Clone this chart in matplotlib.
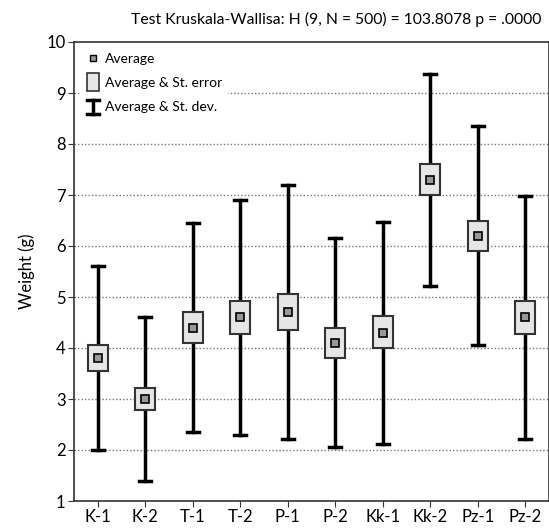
import matplotlib.pyplot as plt
from matplotlib.patches import Rectangle
from matplotlib.lines import Line2D
from matplotlib.legend_handler import HandlerBase

plt.rcParams['font.family'] = ['Lato', 'DejaVu Sans']

groups = ["K-1", "K-2", "T-1", "T-2", "P-1", "P-2", "Kk-1", "Kk-2", "Pz-1", "Pz-2"]
means = [3.80, 3.00, 4.40, 4.60, 4.70, 4.10, 4.30, 7.30, 6.20, 4.60]
se_low = [3.55, 2.78, 4.10, 4.27, 4.35, 3.80, 4.00, 7.00, 5.90, 4.27]
se_high = [4.05, 3.22, 4.70, 4.92, 5.05, 4.40, 4.62, 7.60, 6.50, 4.93]
sd_low = [2.00, 1.40, 2.35, 2.30, 2.22, 2.05, 2.12, 5.22, 4.05, 2.22]
sd_high = [5.61, 4.60, 6.45, 6.90, 7.20, 6.15, 6.48, 9.38, 8.35, 6.98]

box_fill = "#e6e6e6"
box_edge = "#333333"
mean_fill = "#999999"


class IBarHandler(HandlerBase):
    # legend entry: vertical bar with caps, like the whiskers
    def create_artists(self, legend, orig_handle, xd, yd, w, h, fontsize, trans):
        cx = xd + w / 2
        top, bot = yd + h * 1.1, yd - h * 0.35
        cap = w * 0.4
        arts = [Line2D([cx, cx], [bot, top], color="black", lw=2.5),
                Line2D([cx - cap, cx + cap], [top, top], color="black", lw=2.5),
                Line2D([cx - cap, cx + cap], [bot, bot], color="black", lw=2.5)]
        for a in arts:
            a.set_transform(trans)
        return arts


class BoxHandler(HandlerBase):
    def create_artists(self, legend, orig_handle, xd, yd, w, h, fontsize, trans):
        r = Rectangle((xd + w * 0.1, yd - h * 0.4), w * 0.8, h * 1.8,
                      facecolor=box_fill, edgecolor=box_edge, lw=1.2, transform=trans)
        return [r]


fig = plt.figure(figsize=(5.49, 5.28), dpi=100)
ax = fig.add_axes([74 / 549, 27 / 528, 1 - 74 / 549, (501 - 42) / 528])

x = list(range(len(groups)))
bw = 0.42
cap = 0.13
for i in x:
    ax.plot([i, i], [sd_low[i], sd_high[i]], color="black", lw=2.5, zorder=2)
    ax.plot([i - cap, i + cap], [sd_low[i], sd_low[i]], color="black", lw=2.5, zorder=2)
    ax.plot([i - cap, i + cap], [sd_high[i], sd_high[i]], color="black", lw=2.5, zorder=2)
    ax.add_patch(Rectangle((i - bw / 2, se_low[i]), bw, se_high[i] - se_low[i],
                           facecolor=box_fill, edgecolor=box_edge, lw=1.5, zorder=3))
ax.plot(x, means, linestyle="none", marker="s", markersize=5.5,
        markerfacecolor=mean_fill, markeredgecolor="black", markeredgewidth=1.2, zorder=4)

ax.set_xlim(-0.5, 9.5)
ax.set_ylim(1, 10)
ax.set_xticks(x)
ax.set_xticklabels(groups)
ax.set_yticks(range(1, 11))
ax.tick_params(labelsize=12, direction="out", length=4, color="#333333", pad=2)
for sp in ax.spines.values():
    sp.set_linewidth(1.2)
    sp.set_color("#333333")
for yv in range(2, 10):
    ax.axhline(yv, color="#777777", lw=1, linestyle=(0, (1, 1.5)), zorder=1)
ax.set_ylabel("Weight (g)", fontsize=12, labelpad=8)
ax.set_title("Test Kruskala-Wallisa: H (9, N = 500) = 103.8078 p = .0000",
             fontsize=11.3, pad=13, x=0.553)

h_mean = Line2D([], [], linestyle="none", marker="s", markersize=4.5,
                markerfacecolor=mean_fill, markeredgecolor="black", markeredgewidth=1.0)
h_box = Rectangle((0, 0), 1, 1)
h_bar = Line2D([], [])
leg = ax.legend([h_mean, h_box, h_bar],
                ["Average", "Average & St. error", "Average & St. dev."],
                handler_map={Rectangle: BoxHandler(), h_bar: IBarHandler()},
                loc="upper left", frameon=True, fontsize=10, handlelength=1.1,
                handletextpad=0.3, labelspacing=0.85, borderaxespad=0.4,
                fancybox=False)
leg.get_frame().set_edgecolor("white")
leg.get_frame().set_alpha(1)
leg.set_zorder(5)

fig.savefig("out.png", dpi=100)
